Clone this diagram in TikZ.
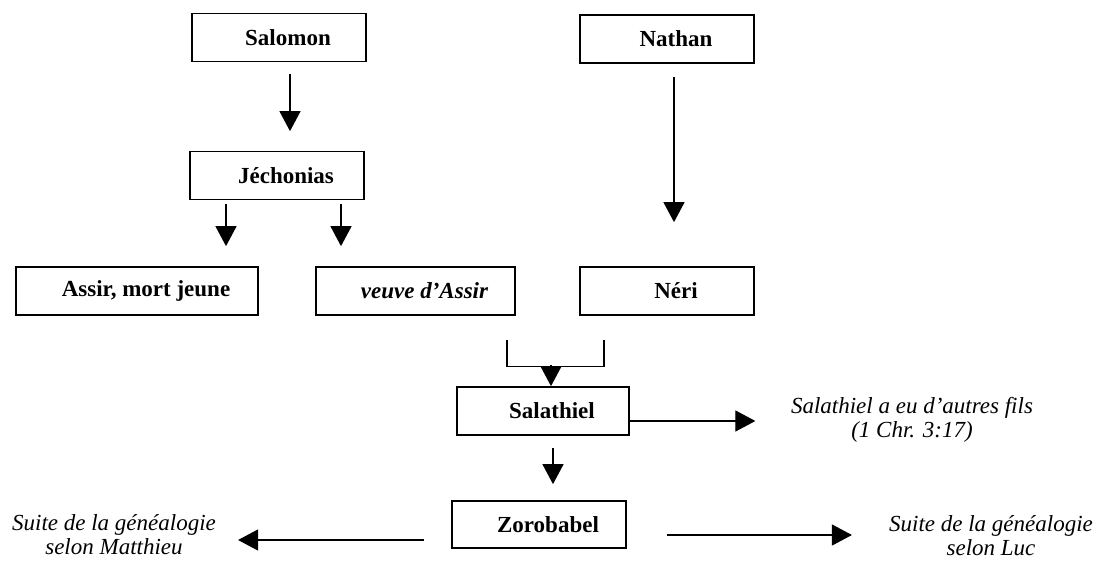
\documentclass[tikz,border=0pt]{standalone}
\usepackage{fontspec}
\setmainfont{Liberation Serif}
\usetikzlibrary{arrows.meta}
\newcommand\boxind{\hspace*{18pt}}
\begin{document}
\begin{tikzpicture}[x=1pt,y=-1pt,
  box/.style={draw, line width=1.7pt, inner sep=0pt, minimum height=48pt,
    font=\fontsize{23}{25}\selectfont\bfseries},
  note/.style={inner sep=0pt, align=center, font=\fontsize{23}{24}\selectfont\itshape},
  conn/.style={line width=1.2pt},
  arr/.style={conn, -{Triangle[width=21pt,length=20pt]}},
]
\useasboundingbox (0,0) rectangle (1098,560);
\fill[white] (0,0) rectangle (1098,560);
\clip (0,0) rectangle (1098,560);

% boxes
\node[box, minimum width=174pt] (salomon) at (279,37.5) {\boxind Salomon};
\node[box, minimum width=174pt] (nathan) at (667,39) {\boxind Nathan};
\node[box, minimum width=174pt] (jech) at (277,175.5) {\boxind Jéchonias};
\node[box, minimum width=242pt] (assir) at (137,291) {\boxind Assir, mort jeune};
\node[box, minimum width=199pt] (veuve) at (415.5,291) {\boxind\itshape veuve d'Assir};
\node[box, minimum width=174pt] (neri) at (667,291) {\boxind Néri};
\node[box, minimum width=172pt] (salathiel) at (543,411) {\boxind Salathiel};
\node[box, minimum width=174pt, minimum height=47pt] (zoro) at (539,524.5) {\boxind Zorobabel};

% notes
\node[note] (nsal) at (912,420) {Salathiel a eu d'autres fils\\(1 Chr. 3:17)};
\node[note] (nluc) at (991,535.5) {Suite de la généalogie\\selon Luc};
\node[note] (nmat) at (114,535) {Suite de la généalogie\\selon Matthieu};

% connectors
\draw[arr, shorten <=11.5pt, shorten >=19.5pt] ([xshift=11pt]salomon.south) -- ([xshift=13pt]jech.north);

\coordinate (ja) at ([xshift=-51pt]jech.south);
\draw[arr, shorten <=3.5pt, shorten >=20pt] (ja) -- (ja |- assir.north);
\coordinate (jb) at ([xshift=64pt]jech.south);
\draw[arr, shorten <=3.5pt, shorten >=20pt] (jb) -- (jb |- veuve.north);

\coordinate (na) at ([xshift=7pt]nathan.south);
\draw[arr, shorten <=13pt, shorten >=44pt] (na) -- (na |- neri.north);

\draw[conn] ([xshift=91.5pt,yshift=-24pt]veuve.south) -- ([xshift=91.5pt,yshift=-51pt]veuve.south)
  -- ([xshift=-63pt,yshift=-51pt]neri.south) -- ([xshift=-63pt,yshift=-24pt]neri.south);
\draw[arr] ([xshift=8pt,yshift=21pt]salathiel.north) -- ([xshift=8pt]salathiel.north);

\coordinate (sa) at ([yshift=-10pt]salathiel.east);
\draw[arr, shorten >=35.5pt] (sa) -- (sa -| nsal.west);

\draw[arr, shorten <=12pt, shorten >=16pt] ([xshift=10pt]salathiel.south) -- ([xshift=14pt]zoro.north);

\coordinate (za) at ([yshift=-15.5pt]zoro.west);
\draw[arr, shorten <=27pt, shorten >=22pt] (za) -- (za -| nmat.east);
\coordinate (zb) at ([yshift=-10.5pt]zoro.east);
\draw[arr, shorten <=40pt, shorten >=37pt] (zb) -- (zb -| nluc.west);
\end{tikzpicture}
\end{document}
